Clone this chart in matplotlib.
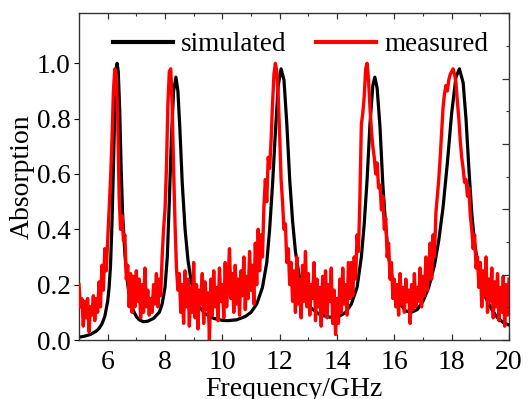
import numpy as np
import matplotlib
matplotlib.use("Agg")
import matplotlib.pyplot as plt
from matplotlib.ticker import MultipleLocator, FormatStrFormatter

plt.rcParams['font.family'] = ['Liberation Serif', 'DejaVu Serif']
plt.rcParams['mathtext.fontset'] = 'stix'

# ---------------- data ----------------
sim_freq = [5.0, 5.2, 5.4, 5.6, 5.7, 5.8, 5.9, 6.0, 6.05, 6.1, 6.15, 6.2, 6.25, 6.3, 6.33,
            6.37, 6.42, 6.47, 6.52, 6.6, 6.7, 6.8, 6.9, 7.0, 7.1, 7.25, 7.4, 7.6, 7.8, 7.9,
            8.0, 8.08, 8.15, 8.22, 8.3, 8.38, 8.45, 8.52, 8.6, 8.7, 8.8, 8.9, 9.0, 9.2, 9.4,
            9.7, 10.0, 10.2, 10.5, 10.8, 11.0, 11.2, 11.4, 11.55, 11.65, 11.75, 11.85, 11.95,
            12.05, 12.15, 12.25, 12.35, 12.45, 12.55, 12.7, 12.9, 13.1, 13.4, 13.7, 13.9,
            14.1, 14.3, 14.5, 14.7, 14.85, 14.95, 15.05, 15.15, 15.25, 15.32, 15.4, 15.5,
            15.6, 15.7, 15.8, 16.0, 16.2, 16.4, 16.6, 16.8, 17.0, 17.2, 17.4, 17.55, 17.7,
            17.85, 18.0, 18.15, 18.27, 18.4, 18.5, 18.6, 18.7, 18.8, 19.0, 19.2, 19.4, 19.6,
            19.8, 20.0]
sim_abs = [0.010, 0.014, 0.020, 0.032, 0.042, 0.058, 0.085, 0.14, 0.19, 0.27, 0.42, 0.62, 0.84, 0.98, 1.00,
           0.97, 0.83, 0.62, 0.46, 0.31, 0.20, 0.14, 0.105, 0.085, 0.073, 0.066, 0.068, 0.078, 0.10, 0.13,
           0.19, 0.30, 0.50, 0.72, 0.90, 0.95, 0.90, 0.76, 0.57, 0.40, 0.29, 0.22, 0.17, 0.12, 0.095,
           0.078, 0.071, 0.070, 0.073, 0.085, 0.10, 0.13, 0.19, 0.28, 0.40, 0.56, 0.75, 0.92,
           0.98, 0.94, 0.78, 0.58, 0.43, 0.32, 0.22, 0.15, 0.115, 0.092, 0.083, 0.082,
           0.087, 0.10, 0.13, 0.19, 0.30, 0.42, 0.58, 0.78, 0.92, 0.95, 0.91, 0.77,
           0.56, 0.41, 0.30, 0.18, 0.13, 0.105, 0.10, 0.11, 0.14, 0.19, 0.27, 0.36, 0.48,
           0.64, 0.82, 0.95, 0.98, 0.93, 0.80, 0.62, 0.46, 0.35, 0.22, 0.15, 0.11, 0.08,
           0.063, 0.054]

meas_start, meas_stop = 5.0, 20.0
meas_abs = [
    0.20, 0.12, 0.15, 0.05, 0.14, 0.08, 0.15, 0.03, 0.12, 0.09,
    0.16, 0.07, 0.15, 0.10, 0.21, 0.12, 0.27, 0.18, 0.33, 0.25,
    0.36, 0.47, 0.58, 0.72, 0.90, 0.98, 0.96, 0.80, 0.52, 0.40,
    0.45, 0.36, 0.38, 0.22, 0.27, 0.12, 0.24, 0.10, 0.23, 0.12,
    0.25, 0.14, 0.22, 0.08, 0.20, 0.10, 0.26, 0.12, 0.18, 0.09,
    0.15, 0.10, 0.20, 0.13, 0.24, 0.12, 0.22, 0.16, 0.30, 0.40,
    0.47, 0.62, 0.85, 0.97, 0.98, 0.85, 0.62, 0.42, 0.26, 0.18,
    0.24, 0.10, 0.20, 0.06, 0.25, 0.12, 0.22, 0.05, 0.19, 0.10,
    0.28, 0.08, 0.20, 0.04, 0.18, 0.13, 0.24, 0.06, 0.21, 0.11,
    0.17, 0.00, 0.22, 0.09, 0.25, 0.12, 0.19, 0.07, 0.26, 0.14,
    0.20, 0.08, 0.28, 0.12, 0.22, 0.33, 0.15, 0.24, 0.10, 0.27,
    0.13, 0.22, 0.09, 0.25, 0.16, 0.30, 0.11, 0.23, 0.15, 0.32,
    0.18, 0.27, 0.13, 0.35, 0.20, 0.40, 0.25, 0.38, 0.30, 0.48,
    0.58, 0.50, 0.66, 0.62, 0.72, 0.85, 0.96, 1.00, 0.97, 0.88,
    0.74, 0.58, 0.50, 0.40, 0.42, 0.28, 0.33, 0.20, 0.28, 0.14,
    0.25, 0.10, 0.30, 0.13, 0.22, 0.08, 0.27, 0.14, 0.32, 0.12,
    0.24, 0.09, 0.20, 0.15, 0.28, 0.07, 0.22, 0.12, 0.19, 0.05,
    0.23, 0.10, 0.25, 0.08, 0.20, 0.14, 0.26, 0.06, 0.18, 0.02,
    0.15, 0.06, 0.22, 0.10, 0.26, 0.13, 0.20, 0.09, 0.28, 0.15,
    0.28, 0.16, 0.30, 0.22, 0.38, 0.32, 0.52, 0.78, 0.82, 0.88,
    0.98, 1.00, 0.94, 0.84, 0.76, 0.70, 0.66, 0.60, 0.64, 0.55,
    0.56, 0.47, 0.52, 0.40, 0.44, 0.30, 0.35, 0.22, 0.28, 0.15,
    0.22, 0.12, 0.20, 0.09, 0.24, 0.13, 0.19, 0.10, 0.22, 0.14,
    0.18, 0.06, 0.20, 0.11, 0.24, 0.12, 0.19, 0.14, 0.26, 0.12,
    0.23, 0.16, 0.30, 0.18, 0.26, 0.35, 0.22, 0.38, 0.30, 0.46,
    0.52, 0.58, 0.66, 0.75, 0.84, 0.89, 0.92, 0.90, 0.94, 0.96,
    0.97, 0.98, 0.96, 0.93, 0.86, 0.80, 0.72, 0.66, 0.62, 0.57,
    0.58, 0.52, 0.55, 0.45, 0.40, 0.33, 0.38, 0.26, 0.30, 0.19,
    0.28, 0.12, 0.25, 0.16, 0.30, 0.10, 0.22, 0.14, 0.26, 0.08,
    0.21, 0.12, 0.24, 0.07, 0.19, 0.10, 0.23, 0.05, 0.20, 0.09,
    0.22]
meas_freq = np.linspace(meas_start, meas_stop, len(meas_abs))

x_ticks = [6, 8, 10, 12, 14, 16, 18, 20]
y_ticks = [0.0, 0.2, 0.4, 0.6, 0.8, 1.0]
series_labels = ["simulated", "measured"]

# ---------------- figure ----------------
fig = plt.figure(figsize=(5.30, 3.99), dpi=100)
ax = fig.add_axes([79/530, 1 - 340/399, 430/530, 326.5/399])

ax.plot(sim_freq, sim_abs, color='black', lw=2.3, label=series_labels[0], zorder=2)
ax.plot(meas_freq, meas_abs, color='#ff0000', lw=2.4, label=series_labels[1], zorder=3)

ax.set_xlim(5, 20)
ax.set_ylim(0, 1.18)
ax.set_xticks(x_ticks)
ax.xaxis.set_minor_locator(MultipleLocator(1))
ax.set_yticks(y_ticks)
ax.yaxis.set_major_formatter(FormatStrFormatter('%.1f'))

fs = 20
ax.tick_params(axis='x', which='major', direction='in', length=4.5, width=0.9,
               top=True, labelsize=fs, pad=7.5, colors='#333333', labelcolor='black')
ax.tick_params(axis='x', which='minor', direction='in', length=2.2, width=0.8,
               top=True, colors='#333333')
ax.tick_params(axis='y', which='both', left=False, right=False, labelsize=19.5, pad=2.5)

for s in ax.spines.values():
    s.set_linewidth(1.0)
    s.set_color('#333333')

# right-hand tick marks (independent scale, no labels)
ax2 = ax.twinx()
ax2.set_ylim(0, 5)
ax2.yaxis.set_major_locator(MultipleLocator(1))
ax2.yaxis.set_minor_locator(MultipleLocator(0.5))
ax2.tick_params(axis='y', which='major', direction='in', length=5, width=0.9,
                labelright=False, colors='#333333')
ax2.tick_params(axis='y', which='minor', direction='in', length=2.5, width=0.8,
                labelright=False, colors='#333333')
for s in ax2.spines.values():
    s.set_visible(False)

ax.set_xlabel("Frequency/GHz", fontsize=fs, labelpad=1)
ax.set_ylabel("Absorption", fontsize=fs, labelpad=1.5)

leg = ax.legend(loc='center left', bbox_to_anchor=(0.023, 0.905), ncol=2,
                frameon=False, fontsize=19.5, handlelength=2.2, handletextpad=0.3,
                columnspacing=1.1, borderpad=0.4)
for h in leg.get_lines():
    h.set_linewidth(3.0)

fig.savefig("out.png", dpi=100)
